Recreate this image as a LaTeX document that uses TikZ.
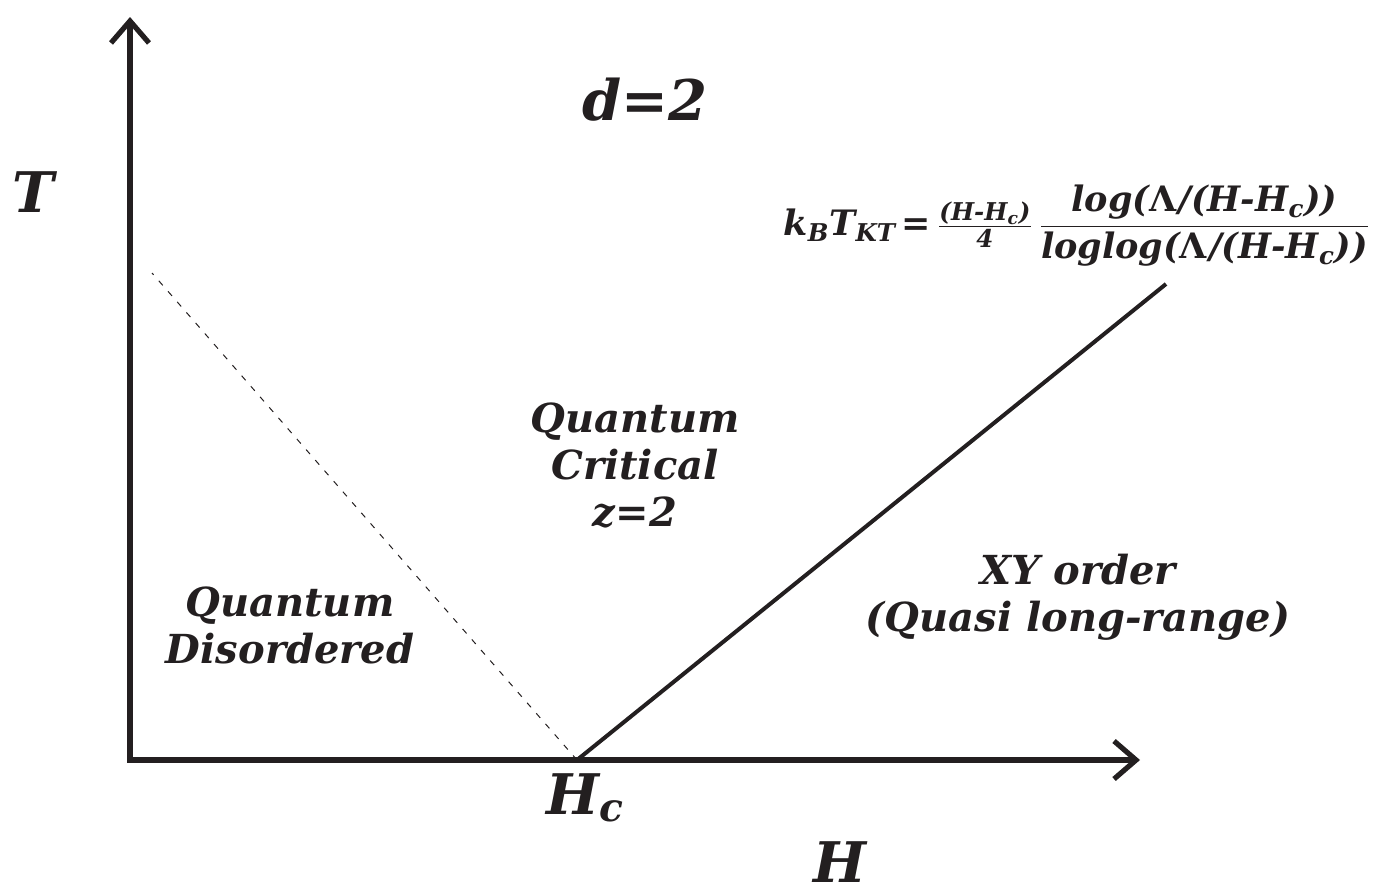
\documentclass[tikz,border=0pt]{standalone}
\usepackage{amsmath}
\usepackage{fontspec}
\setmainfont{DejaVu Serif}
\usetikzlibrary{arrows.meta}
\definecolor{ink}{HTML}{231F20}
\newcommand{\sbs}[1]{\ensuremath{_{\text{#1}}}}
\newcommand{\Lam}{{\upshape Λ}\kern1pt}
\tikzset{
  ax/.style={{Straight Barb[length=11pt,width=19pt]}-{Straight Barb[length=11pt,width=19pt]},line width=2.6pt,ink,line join=miter},
  reg/.style={font=\fontsize{20}{23.5}\selectfont\bfseries\itshape,align=center,text=ink,inner sep=0pt},
  big/.style={font=\fontsize{28}{32}\selectfont\bfseries\itshape,text=ink,inner sep=0pt},
  fml/.style={font=\fontsize{17.5}{21}\selectfont\bfseries\itshape,text=ink,inner sep=0pt}
}
\begin{document}
\begin{tikzpicture}[x=0.5pt,y=-0.5pt]
\useasboundingbox (0,0) rectangle (1374,894);
% axes and phase boundaries
\coordinate (O) at (130,760);
\coordinate (Tend) at (130,17);
\coordinate (Hend) at (1140,760);
\coordinate (Hc) at (577,760);
\coordinate (Ktop) at (1166,284);
\coordinate (Dtop) at (152,273);
\draw[ax] (Tend) -- (O) -- (Hend);
\draw[line width=2pt,ink] (Hc) -- (Ktop);
\draw[line width=0.5pt,ink,dash pattern=on 3pt off 4pt] (Hc) -- (Dtop);
% labels
\node[big] (Tlbl) at (33,192) {T};
\node[big] (Hlbl) at (840,862) {H};
\node[big] (dim) at (645,100) {d=2};
\node[big] (Hclbl) at (585,798) {H\sbs{c}};
\node[reg] (qc) at (635,465) {Quantum\\Critical\\z=2};
\node[reg] (qd) at (290,625) {Quantum\\Disordered};
\node[reg] (xy) at (1078,597) {XY order\\(Quasi long-range)};
\node[fml] (kt) at (1077,226) {k\sbs{B}T\sbs{KT}\,=\,$\tfrac{\text{(H-H\sbs{c})}}{\text{4}}\,\dfrac{\text{log(\Lam/(H-H\sbs{c}))}}{\text{loglog(\Lam/(H-H\sbs{c}))}}$};
\end{tikzpicture}
\end{document}
